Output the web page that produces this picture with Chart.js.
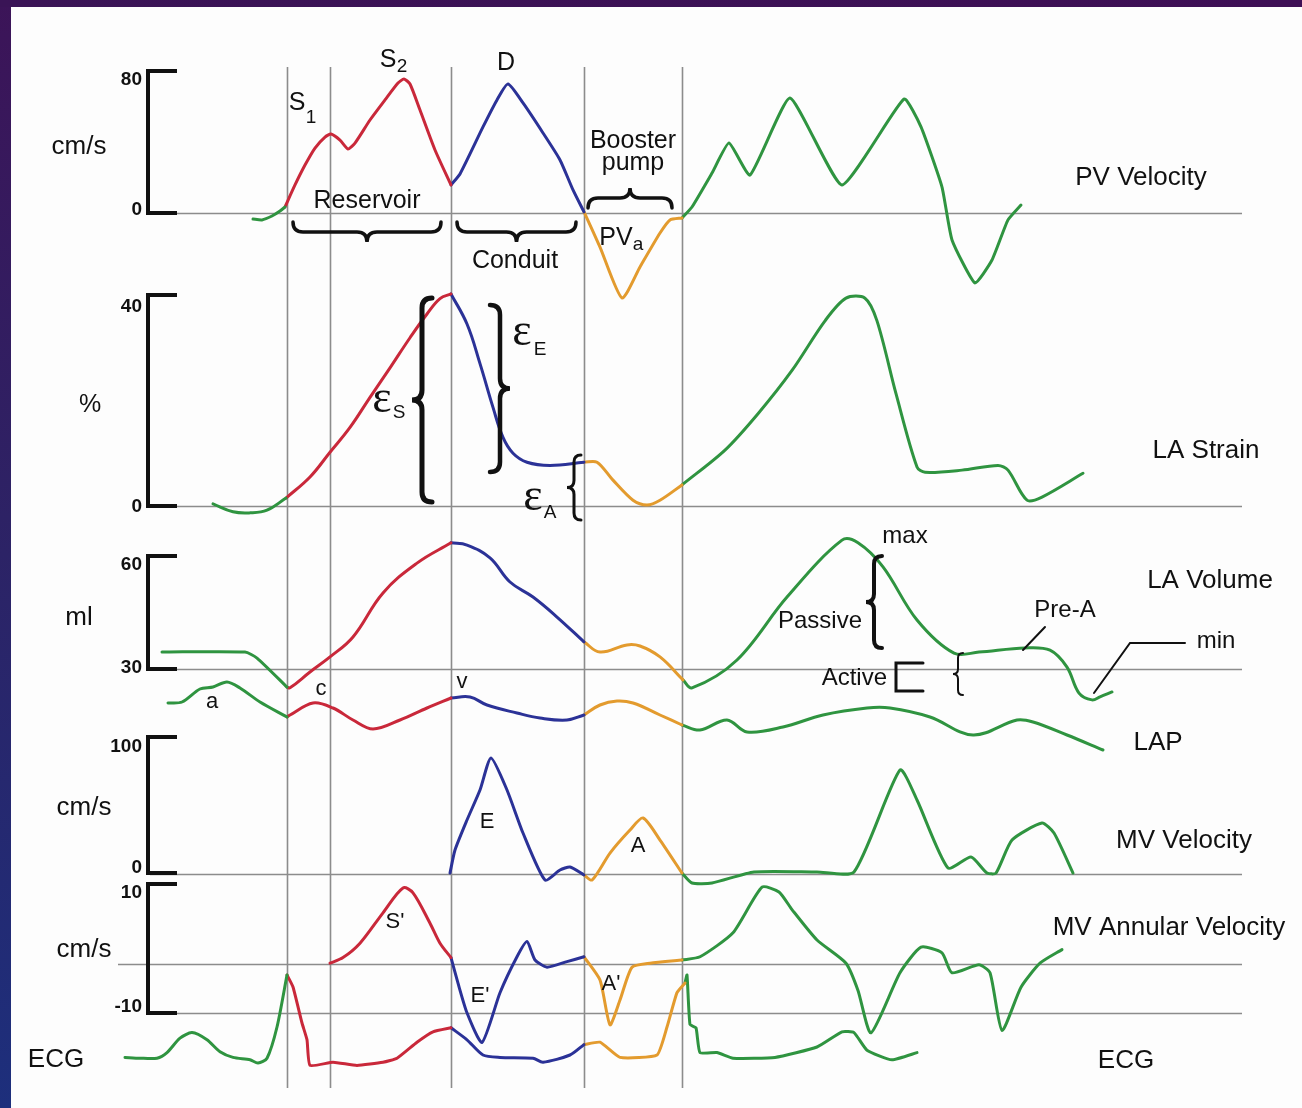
<!DOCTYPE html>
<html>
<head>
<meta charset="utf-8">
<title>Left atrial function</title>
<script src="https://cdn.jsdelivr.net/npm/chart.js@4.4.1/dist/chart.umd.min.js"></script>
<style>
  html, body { margin: 0; padding: 0; background: #fff; overflow: hidden; }
  canvas { display: block; }
</style>
</head>
<body>
<canvas id="cycleChart" width="1302" height="1108"></canvas>
<script>
// Time in ms (R wave = 0), value in each panel's own unit: [t, value]
// Phase boundaries: R wave, start of systole, mitral opening, atrial contraction, next R
const phaseTimes = [0, 86, 328, 594, 790];

// Pulmonary vein velocity (cm/s)
const pvPre = [[-68, -3.4], [-50, -3.9], [-30, -1.7], [-14, 1.1], [-4, 3.4]];
const pvReservoir = [[-4, 3.4], [16, 15.8], [36, 27.0], [56, 36.6], [76, 42.8], [88, 44.5], [106, 41.1], [122, 36.1], [136, 39.4], [166, 52.4], [196, 63.7], [222, 73.2], [234, 75.5], [246, 72.7], [266, 58.0], [296, 35.5], [328, 15.8]];
const pvConduit = [[328, 15.8], [346, 22.0], [392, 48.5], [420, 63.7], [442, 72.7], [472, 62.0], [512, 45.1], [546, 29.9], [572, 13.0], [594, 0.6]];
const pvBooster = [[594, 0.6], [626, -19.2], [670, -47.9], [706, -30.4], [746, -11.3], [766, -3.9], [790, -2.8]];
const pvNext = [[790, -2.8], [810, 3.4], [850, 22.5], [884, 39.4], [926, 21.4], [1006, 64.8], [1110, 15.8], [1234, 64.2], [1268, 48.5], [1310, 14.6], [1330, -15.2], [1376, -39.4], [1410, -26.5], [1442, -3.9], [1468, 4.5]];

// LA strain (%)
const strainPre = [[-148, 0.4], [-108, -1.1], [-74, -1.3], [-40, -0.8], [-2, 1.5]];
const strainReservoir = [[-2, 1.5], [46, 5.5], [86, 10.2], [126, 14.9], [166, 20.6], [206, 26.2], [246, 31.9], [280, 36.4], [306, 39.3], [328, 40.2]];
const strainConduit = [[328, 40.2], [360, 34.5], [386, 27.0], [412, 18.7], [432, 13.0], [452, 10.0], [480, 8.3], [526, 7.7], [594, 8.3]];
const strainBooster = [[594, 8.3], [620, 8.3], [652, 4.9], [692, 1.1], [720, 0.2], [746, 1.1], [790, 4.0]];
const strainNext = [[790, 4.0], [876, 10.6], [942, 17.5], [1010, 25.7], [1076, 35.1], [1118, 39.4], [1156, 39.4], [1180, 35.1], [1218, 21.3], [1260, 7.4], [1276, 6.4], [1350, 6.8], [1422, 7.7], [1442, 6.8], [1480, 1.1], [1510, 1.7], [1592, 6.2]];

// LA volume (ml)
const volumePre = [[-250, 34.5], [-84, 34.5], [-60, 32.9], [0, 25.2]];
const volumeReservoir = [[0, 25.2], [6, 25.0], [46, 29.2], [86, 33.2], [132, 38.5], [192, 50.2], [260, 58.1], [328, 63.5]];
const volumeConduit = [[328, 63.5], [360, 62.9], [406, 59.5], [446, 53.1], [492, 49.1], [540, 43.8], [594, 37.2]];
const volumeBooster = [[594, 37.2], [626, 34.5], [680, 36.4], [706, 36.1], [746, 33.2], [792, 27.1]];
const volumeNext = [[792, 27.1], [810, 25.0], [900, 32.4], [1000, 49.1], [1110, 64.2], [1142, 63.5], [1192, 57.1], [1260, 43.0], [1334, 34.2], [1384, 34.5], [1476, 35.6], [1526, 35.0], [1560, 30.5], [1584, 23.6], [1610, 21.8], [1626, 22.6], [1650, 23.9]];

// LA pressure (mmHg)
const lapPre = [[-238, 13.4], [-210, 13.6], [-174, 16.2], [-148, 16.6], [-120, 17.6], [-94, 16.4], [-54, 13.6], [0, 10.6]];
const lapReservoir = [[0, 10.6], [6, 11.0], [52, 13.4], [92, 12.4], [132, 10.0], [172, 8.2], [226, 10.0], [280, 12.4], [328, 14.4]];
const lapConduit = [[328, 14.4], [366, 14.6], [400, 13.0], [460, 11.4], [506, 10.4], [560, 10.0], [594, 11.0]];
const lapBooster = [[594, 11.0], [626, 13.0], [660, 13.8], [692, 13.4], [746, 11.0], [790, 9.0]];
const lapNext = [[790, 9.0], [826, 8.0], [880, 10.0], [920, 7.6], [992, 8.6], [1072, 11.0], [1160, 12.4], [1206, 12.4], [1286, 10.6], [1372, 7.0], [1460, 10.0], [1492, 9.6], [1560, 7.0], [1632, 4.0]];

// Mitral inflow velocity (cm/s)
const mvConduit = [[326, 0.7], [336, 17.5], [360, 39.4], [386, 61.3], [408, 84.7], [440, 61.3], [472, 29.9], [516, -4.4], [546, 2.9], [566, 5.1], [594, -0.7]];
const mvBooster = [[594, -0.7], [610, -4.4], [646, 15.3], [686, 32.1], [712, 40.9], [746, 24.8], [790, 0.7]];
const mvNext = [[790, 0.7], [810, -6.6], [850, -6.6], [934, 1.5], [1060, 1.5], [1134, 1.5], [1226, 75.9], [1260, 54.0], [1322, 4.4], [1368, 12.4], [1400, 0.7], [1418, 0.7], [1450, 24.8], [1510, 37.2], [1534, 29.9], [1572, 0.7]];

// Mitral annular velocity (cm/s)
const annularReservoir = [[86, 0.1], [112, 0.8], [146, 2.6], [192, 6.4], [232, 9.5], [252, 8.9], [286, 5.1], [306, 2.6], [328, 0.8]];
const annularConduit = [[328, 0.8], [342, -2.4], [360, -6.1], [390, -9.8], [426, -3.6], [460, 0.9], [480, 2.8], [496, 0.5], [520, -0.4], [560, 0.3], [594, 0.9]];
const annularBooster = [[594, 0.9], [626, -2.0], [646, -7.6], [666, -4.5], [690, -0.4], [726, 0.1], [790, 0.5]];
const annularNext = [[790, 0.5], [826, 0.9], [892, 3.9], [950, 9.6], [984, 9.0], [1010, 6.8], [1060, 3.0], [1118, 0.1], [1142, -3.3], [1168, -8.6], [1226, -1.1], [1268, 2.1], [1310, 1.4], [1330, -1.1], [1384, -0.1], [1406, -1.1], [1430, -8.3], [1468, -2.9], [1506, 0.1], [1550, 1.8]];

// ECG (mV)
const ecgPre = [[-324, -0.03], [-294, -0.04], [-260, -0.04], [-240, 0.03], [-214, 0.21], [-190, 0.28], [-160, 0.19], [-134, 0.04], [-108, -0.03], [-74, -0.06], [-58, -0.1], [-40, -0.04], [-20, 0.35], [0, 1.0]];
const ecgReservoir = [[0, 1.0], [12, 0.85], [30, 0.4], [40, 0.19], [46, -0.13], [92, -0.09], [140, -0.13], [192, -0.09], [220, -0.04], [260, 0.16], [292, 0.29], [328, 0.34]];
const ecgConduit = [[328, 0.34], [360, 0.19], [392, 0.0], [426, -0.03], [492, -0.04], [512, -0.09], [566, 0.0], [594, 0.13]];
const ecgBooster = [[594, 0.13], [626, 0.16], [666, -0.03], [740, 0.0], [760, 0.35], [780, 0.78], [796, 0.9]];
const ecgNext = [[796, 0.9], [800, 1.0], [806, 0.38], [818, 0.34], [826, 0.03], [860, 0.03], [892, -0.04], [976, -0.03], [1060, 0.1], [1110, 0.29], [1134, 0.28], [1160, 0.06], [1210, -0.06], [1260, 0.03]];

// ---- layout -------------------------------------------------------------
const W = 1302, H = 1108;
const colors = { pre: '#2f9440', reservoir: '#c9283a', conduit: '#2b3297', booster: '#e39b2e', next: '#2f9440' };

// two [value, pixel] anchors per panel define each hidden y axis
const panelAnchors = {
    pv: [0, 213, 80, 71],
    strain: [0, 506, 40, 295],
    volume: [30, 669, 60, 556],
    lap: [10, 720, 15, 695],
    mv: [0, 874, 100, 737],
    annular: [0, 964, 10, 884],
    ecg: [0, 1055, 1, 975]
};

function axisRange(a) {
    const [v0, p0, v1, p1] = a;
    const s = (v1 - v0) * H / (p0 - p1);
    const max = v0 + p0 / H * s;
    return { min: max - s, max: max };
}

const scales = {
    x: { type: 'linear', display: false, min: -574, max: 2030 }
};
Object.keys(panelAnchors).forEach(id => {
    const r = axisRange(panelAnchors[id]);
    scales[id] = { type: 'linear', display: false, min: r.min, max: r.max };
});

const traces = [
    ['pv', 'pre', pvPre, 0.2], ['pv', 'reservoir', pvReservoir, 0.2], ['pv', 'conduit', pvConduit, 0.2],
    ['pv', 'booster', pvBooster, 0.2], ['pv', 'next', pvNext, 0.15],
    ['strain', 'pre', strainPre, 0.4], ['strain', 'reservoir', strainReservoir, 0.4], ['strain', 'conduit', strainConduit, 0.4],
    ['strain', 'booster', strainBooster, 0.3], ['strain', 'next', strainNext, 0.3],
    ['volume', 'pre', volumePre, 0.2], ['volume', 'reservoir', volumeReservoir, 0.4], ['volume', 'conduit', volumeConduit, 0.4],
    ['volume', 'booster', volumeBooster, 0.4], ['volume', 'next', volumeNext, 0.35],
    ['lap', 'pre', lapPre, 0.3], ['lap', 'reservoir', lapReservoir, 0.35], ['lap', 'conduit', lapConduit, 0.4],
    ['lap', 'booster', lapBooster, 0.4], ['lap', 'next', lapNext, 0.35],
    ['mv', 'conduit', mvConduit, 0.2], ['mv', 'booster', mvBooster, 0.25], ['mv', 'next', mvNext, 0.2],
    ['annular', 'reservoir', annularReservoir, 0.3], ['annular', 'conduit', annularConduit, 0.2],
    ['annular', 'booster', annularBooster, 0.2], ['annular', 'next', annularNext, 0.2],
    ['ecg', 'pre', ecgPre, 0.25], ['ecg', 'reservoir', ecgReservoir, 0.15], ['ecg', 'conduit', ecgConduit, 0.25],
    ['ecg', 'booster', ecgBooster, 0.15], ['ecg', 'next', ecgNext, 0.15]
];

const datasets = traces.map(([axis, phase, pts, tension]) => ({
    label: axis + '-' + phase,
    data: pts.map(([t, v]) => ({ x: t, y: v })),
    yAxisID: axis,
    borderColor: colors[phase],
    borderWidth: 3,
    showLine: true,
    pointRadius: 0,
    fill: false,
    tension: tension,
    borderCapStyle: 'round',
    borderJoinStyle: 'round'
}));

// gray reference lines: [y, x from, x to]
const baseLines = [[213, 150, 1242], [506, 150, 1242], [669, 150, 1242], [874, 150, 1242], [964, 118, 1242], [1013, 150, 1242]];
// scale brackets on the left: [top, bottom]
const scaleBrackets = [[71, 213], [295, 506], [556, 669], [737, 873], [884, 1013]];

const sans = "'Liberation Sans', Arial, sans-serif";
const fLabel = '25px ' + sans;
const fSub = '19px ' + sans;
const fTick = 'bold 19px ' + sans;
const fEps = "46px 'Liberation Serif', serif";

// [text, x, baseline, font, align]
const labels = [
    ['S', 297, 110, fLabel, 'center'], ['1', 311, 123, fSub, 'center'],
    ['S', 388, 67, fLabel, 'center'], ['2', 402, 72, fSub, 'center'],
    ['D', 506, 70, fLabel, 'center'],
    ['Reservoir', 367, 208, fLabel, 'center'],
    ['Conduit', 515, 268, fLabel, 'center'],
    ['Booster', 633, 148, fLabel, 'center'], ['pump', 633, 170, fLabel, 'center'],
    ['PV', 616, 245, fLabel, 'center'], ['a', 638, 250, fSub, 'center'],
    ['cm/s', 79, 154, '26px ' + sans, 'center'],
    ['PV Velocity', 1141, 185, '26px ' + sans, 'center'],
    ['%', 90, 412, '25px ' + sans, 'center'],
    ['LA Strain', 1206, 458, '26px ' + sans, 'center'],
    ['ε', 382, 412, fEps, 'center'], ['S', 399, 418, fSub, 'center'],
    ['ε', 522, 345, fEps, 'center'], ['E', 540, 355, fSub, 'center'],
    ['ε', 533, 510, fEps, 'center'], ['A', 550, 518, fSub, 'center'],
    ['ml', 79, 625, '26px ' + sans, 'center'],
    ['LA Volume', 1210, 588, '26px ' + sans, 'center'],
    ['max', 905, 543, '24px ' + sans, 'center'],
    ['Passive', 862, 628, '24px ' + sans, 'right'],
    ['Active', 887, 685, '24px ' + sans, 'right'],
    ['Pre-A', 1065, 617, '24px ' + sans, 'center'],
    ['min', 1216, 648, '24px ' + sans, 'center'],
    ['a', 212, 708, '22px ' + sans, 'center'],
    ['c', 321, 695, '22px ' + sans, 'center'],
    ['v', 462, 688, '22px ' + sans, 'center'],
    ['LAP', 1158, 750, '26px ' + sans, 'center'],
    ['cm/s', 84, 815, '26px ' + sans, 'center'],
    ['E', 487, 828, '22px ' + sans, 'center'],
    ['A', 638, 852, '22px ' + sans, 'center'],
    ['MV Velocity', 1184, 848, '26px ' + sans, 'center'],
    ['cm/s', 84, 957, '26px ' + sans, 'center'],
    ["S'", 395, 928, '22px ' + sans, 'center'],
    ["E'", 480, 1002, '22px ' + sans, 'center'],
    ["A'", 611, 990, '22px ' + sans, 'center'],
    ['MV Annular Velocity', 1169, 935, '26px ' + sans, 'center'],
    ['ECG', 56, 1067, '26px ' + sans, 'center'],
    ['ECG', 1126, 1068, '26px ' + sans, 'center'],
    ['80', 142, 85, fTick, 'right'], ['0', 142, 215, fTick, 'right'],
    ['40', 142, 312, fTick, 'right'], ['0', 142, 512, fTick, 'right'],
    ['60', 142, 570, fTick, 'right'], ['30', 142, 673, fTick, 'right'],
    ['100', 142, 752, fTick, 'right'], ['0', 142, 873, fTick, 'right'],
    ['10', 142, 898, fTick, 'right'], ['-10', 142, 1012, fTick, 'right']
];

// vertical curly braces: [spine x, top, bottom, dir (-1 tip left, 1 tip right), half width, line width]
const vBraces = [
    [422, 298, 502, -1, 10, 5],
    [500, 305, 472, 1, 10, 4.5],
    [574, 455, 520, -1, 7, 3],
    [874, 556, 648, -1, 8, 4],
    [958, 653, 695, -1, 5, 2]
];
// horizontal curly braces: [spine y, left, right, dir (1 tip down, -1 tip up), half height, line width]
const hBraces = [
    [232, 293, 441, 1, 10, 3.5],
    [232, 457, 576, 1, 10, 3.5],
    [198, 588, 672, -1, 10, 3.5]
];

function drawVBrace(ctx, x, y1, y2, dir, w) {
    const ym = (y1 + y2) / 2;
    const ex = x - dir * w, tx = x + dir * w;
    ctx.beginPath();
    ctx.moveTo(ex, y1);
    ctx.quadraticCurveTo(x, y1, x, y1 + w);
    ctx.lineTo(x, ym - w);
    ctx.quadraticCurveTo(x, ym, tx, ym);
    ctx.quadraticCurveTo(x, ym, x, ym + w);
    ctx.lineTo(x, y2 - w);
    ctx.quadraticCurveTo(x, y2, ex, y2);
    ctx.stroke();
}

function drawHBrace(ctx, y, x1, x2, dir, w) {
    const xm = (x1 + x2) / 2;
    const ey = y - dir * w, ty = y + dir * w;
    ctx.beginPath();
    ctx.moveTo(x1, ey);
    ctx.quadraticCurveTo(x1, y, x1 + w, y);
    ctx.lineTo(xm - w, y);
    ctx.quadraticCurveTo(xm, y, xm, ty);
    ctx.quadraticCurveTo(xm, y, xm + w, y);
    ctx.lineTo(x2 - w, y);
    ctx.quadraticCurveTo(x2, y, x2, ey);
    ctx.stroke();
}

const figurePlugin = {
    id: 'figure',
    beforeDraw(chart) {
        const ctx = chart.ctx;
        ctx.save();
        ctx.fillStyle = '#fdfdfd';
        ctx.fillRect(0, 0, W, H);
        // slide frame
        const side = ctx.createLinearGradient(0, 0, 0, H);
        side.addColorStop(0, '#3c1458');
        side.addColorStop(0.5, '#2c2366');
        side.addColorStop(1, '#1d2f7c');
        ctx.fillStyle = side;
        ctx.fillRect(0, 0, 11, H);
        const top = ctx.createLinearGradient(0, 0, W, 0);
        top.addColorStop(0, '#3a1456');
        top.addColorStop(1, '#3e0f55');
        ctx.fillStyle = top;
        ctx.fillRect(0, 0, W, 7);
        ctx.restore();
    },
    beforeDatasetsDraw(chart) {
        const ctx = chart.ctx;
        const xs = chart.scales.x;
        ctx.save();
        ctx.strokeStyle = '#8c8c8c';
        ctx.lineWidth = 1.6;
        phaseTimes.forEach(t => {
            const x = Math.round(xs.getPixelForValue(t)) + 0.5;
            ctx.beginPath();
            ctx.moveTo(x, 67);
            ctx.lineTo(x, 1088);
            ctx.stroke();
        });
        baseLines.forEach(([y, x0, x1]) => {
            ctx.beginPath();
            ctx.moveTo(x0, y + 0.5);
            ctx.lineTo(x1, y + 0.5);
            ctx.stroke();
        });
        ctx.restore();
    },
    afterDatasetsDraw(chart) {
        const ctx = chart.ctx;
        ctx.save();
        ctx.strokeStyle = '#111';
        ctx.lineCap = 'butt';
        // scale brackets
        ctx.lineWidth = 4;
        scaleBrackets.forEach(([y1, y2]) => {
            ctx.beginPath();
            ctx.moveTo(177, y1);
            ctx.lineTo(148, y1);
            ctx.lineTo(148, y2);
            ctx.lineTo(177, y2);
            ctx.stroke();
        });
        // braces
        ctx.lineCap = 'round';
        vBraces.forEach(([x, y1, y2, dir, w, lw]) => {
            ctx.lineWidth = lw;
            drawVBrace(ctx, x, y1, y2, dir, w);
        });
        hBraces.forEach(([y, x1, x2, dir, w, lw]) => {
            ctx.lineWidth = lw;
            drawHBrace(ctx, y, x1, x2, dir, w);
        });
        // "Active" bracket and leader lines
        ctx.lineWidth = 3;
        ctx.beginPath();
        ctx.moveTo(923, 663); ctx.lineTo(896, 663); ctx.lineTo(896, 691); ctx.lineTo(923, 691);
        ctx.stroke();
        ctx.lineWidth = 2;
        ctx.beginPath();
        ctx.moveTo(1045, 627); ctx.lineTo(1023, 650);
        ctx.moveTo(1185, 643); ctx.lineTo(1130, 643); ctx.lineTo(1094, 693);
        ctx.stroke();
        // text
        ctx.fillStyle = '#111';
        ctx.textBaseline = 'alphabetic';
        labels.forEach(([txt, x, y, font, align]) => {
            ctx.font = font;
            ctx.textAlign = align;
            ctx.fillText(txt, x, y);
        });
        ctx.restore();
    }
};

new Chart(document.getElementById('cycleChart').getContext('2d'), {
    type: 'scatter',
    data: { datasets: datasets },
    options: {
        responsive: false,
        animation: false,
        layout: { padding: 0 },
        plugins: {
            legend: { display: false },
            tooltip: { enabled: false }
        },
        scales: scales
    },
    plugins: [figurePlugin]
});
</script>
</body>
</html>
